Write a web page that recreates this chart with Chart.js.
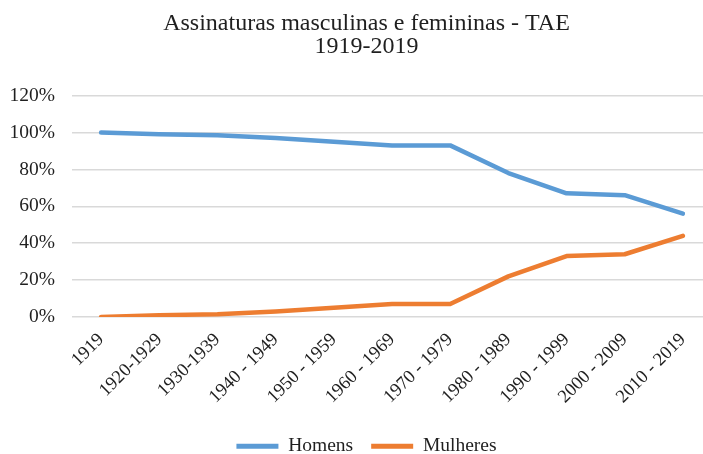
<!DOCTYPE html>
<html>
<head>
<meta charset="utf-8">
<script src="https://cdn.jsdelivr.net/npm/chart.js@4"></script>
<style>
html,body{margin:0;padding:0;background:#fff;overflow:hidden;width:703px;height:454px;}
#wrap{position:absolute;left:0;top:0;width:712px;height:454px;}
</style>
</head>
<body>
<div id="wrap"><canvas id="c" width="712" height="454"></canvas></div>
<script>
const categories = ["1919","1920-1929","1930-1939","1940 - 1949","1950 - 1959","1960 - 1969","1970 - 1979","1980 - 1989","1990 - 1999","2000 - 2009","2010 - 2019"];
const homens = [100, 99, 98.5, 97, 95, 93, 93, 78, 67, 66, 56];
const mulheres = [0, 1, 1.5, 3, 5, 7, 7, 22, 33, 34, 44];
const yTicks = [0, 20, 40, 60, 80, 100, 120];
const titleLines = ["Assinaturas masculinas e femininas - TAE", "1919-2019"];

const serif = "'Liberation Serif', 'Times New Roman', serif";
const textColor = "#1f1f1f";

// widen the y-axis label clip area so labels are not cut at the left
const unclipY = {
  id: 'unclipY',
  afterLayout(chart) { if (chart.scales.y) chart.scales.y.left = 0; }
};

new Chart(document.getElementById('c'), {
  type: 'line',
  data: {
    labels: categories,
    datasets: [
      {label: 'Homens', data: homens, borderColor: '#5B9BD5', backgroundColor: '#5B9BD5', borderWidth: 4.5, pointRadius: 0, tension: 0, borderCapStyle: 'round', borderJoinStyle: 'round'},
      {label: 'Mulheres', data: mulheres, borderColor: '#ED7D31', backgroundColor: '#ED7D31', borderWidth: 4.5, pointRadius: 0, tension: 0, borderCapStyle: 'round', borderJoinStyle: 'round'}
    ]
  },
  plugins: [unclipY],
  options: {
    responsive: false,
    animation: false,
    layout: {padding: {left: 21, right: 0, top: 0, bottom: -12}},
    plugins: {
      title: {display: true, text: titleLines, color: textColor, font: {family: serif, size: 24, weight: 'normal', lineHeight: 0.96}, padding: {top: 12, bottom: 37.5}},
      legend: {
        position: 'bottom',
        labels: {
          color: textColor, font: {family: serif, size: 19.5},
          boxWidth: 42, boxHeight: 5, padding: 18,
          generateLabels: (chart) => chart.data.datasets.map((ds, i) => ({
            text: ds.label, fillStyle: ds.borderColor, strokeStyle: ds.borderColor, lineWidth: 0, datasetIndex: i, hidden: false, fontColor: textColor
          }))
        }
      },
      tooltip: {enabled: false}
    },
    scales: {
      x: {
        offset: true,
        grid: {display: false},
        border: {display: false},
        ticks: {color: textColor, font: {family: serif, size: 18.5}, minRotation: 45, maxRotation: 45, padding: 4, autoSkip: false},
        afterFit: (axis) => { axis.paddingLeft = 0; axis.paddingRight = 0; axis.height = 101.5; }
      },
      y: {
        min: 0, max: 120,
        afterBuildTicks: (axis) => { axis.ticks = yTicks.map(v => ({value: v})); },
        grid: {color: '#D9D9D9', lineWidth: 1.5, drawTicks: false},
        border: {display: false},
        ticks: {color: textColor, font: {family: serif, size: 19.5}, padding: 17, callback: (v) => v + '%'},
        afterFit: (axis) => { axis.width = 51; }
      }
    }
  }
});
</script>
</body>
</html>
